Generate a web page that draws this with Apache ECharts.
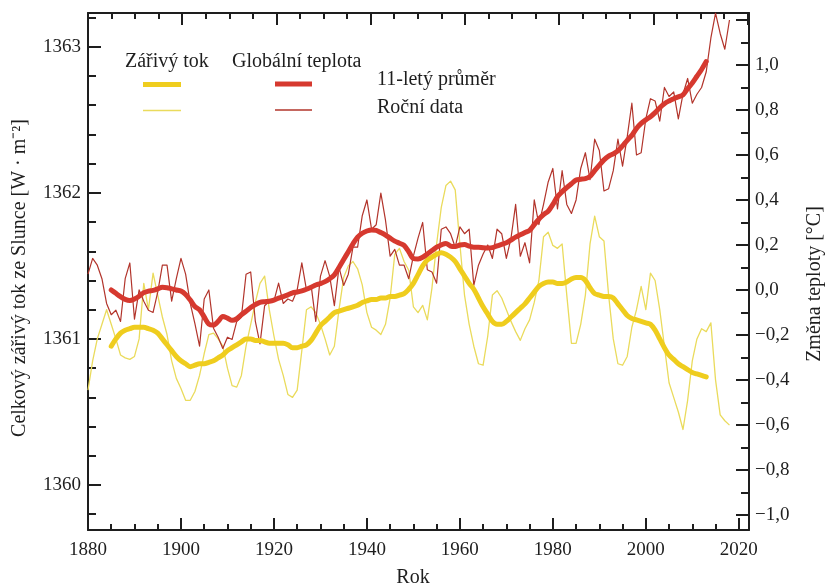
<!DOCTYPE html>
<html><head><meta charset="utf-8">
<script src="https://cdn.jsdelivr.net/npm/echarts@6/dist/echarts.min.js"></script>
<style>html,body{margin:0;padding:0;background:#fff}#c{width:826px;height:586px}</style>
</head><body><div id="c"></div>
<script>
// ---------- data ----------
const yearlyStart = 1880;   // annual series 1880..2018
const avgStart = 1885;      // 11-year averages 1885..2013

// Total solar irradiance, annual [W/m2]
const tsiYearly = [
  1360.65,1360.85,1361.00,1361.10,1361.20,1361.10,1361.00,1360.89,1360.87,1360.86,
  1360.88,1361.00,1361.38,1361.20,1361.45,1361.30,1361.15,1361.03,1360.85,1360.73,
  1360.66,1360.58,1360.58,1360.64,1360.75,1360.90,1361.03,1361.04,1361.00,1360.95,
  1360.80,1360.68,1360.67,1360.75,1360.95,1361.10,1361.25,1361.38,1361.43,1361.20,
  1361.02,1360.86,1360.75,1360.62,1360.60,1360.65,1360.92,1361.20,1361.22,1361.18,
  1361.10,1361.00,1360.89,1360.95,1361.20,1361.42,1361.50,1361.53,1361.48,1361.37,
  1361.18,1361.08,1361.06,1361.03,1361.10,1361.28,1361.58,1361.62,1361.53,1361.47,
  1361.22,1361.18,1361.23,1361.13,1361.35,1361.65,1361.90,1362.05,1362.08,1362.02,
  1361.65,1361.30,1361.10,1360.95,1360.83,1360.82,1361.02,1361.30,1361.33,1361.28,
  1361.20,1361.12,1361.05,1360.99,1361.07,1361.13,1361.25,1361.40,1361.70,1361.73,
  1361.64,1361.62,1361.65,1361.30,1360.97,1360.97,1361.10,1361.30,1361.65,1361.84,
  1361.70,1361.67,1361.30,1361.00,1360.83,1360.82,1360.88,1361.08,1361.20,1361.36,
  1361.20,1361.45,1361.40,1361.20,1360.95,1360.70,1360.60,1360.50,1360.38,1360.58,
  1360.85,1361.00,1361.07,1361.05,1361.11,1360.72,1360.48,1360.44,1360.41
];
// Total solar irradiance, 11-year average
const tsiAvg = [
  1360.95,1361.00,1361.04,1361.06,1361.07,
  1361.08,1361.08,1361.08,1361.07,1361.06,1361.04,1361.00,1360.96,1360.92,1360.88,
  1360.85,1360.83,1360.81,1360.82,1360.83,1360.83,1360.84,1360.85,1360.87,1360.89,
  1360.92,1360.94,1360.96,1360.98,1361.00,1361.00,1360.99,1360.99,1360.98,1360.97,
  1360.97,1360.97,1360.97,1360.96,1360.94,1360.94,1360.95,1360.96,1360.99,1361.04,
  1361.09,1361.12,1361.15,1361.18,1361.19,1361.20,1361.21,1361.22,1361.23,1361.25,
  1361.26,1361.27,1361.27,1361.28,1361.28,1361.29,1361.29,1361.30,1361.31,1361.34,
  1361.38,1361.44,1361.50,1361.54,1361.56,1361.58,1361.59,1361.58,1361.56,1361.53,
  1361.48,1361.43,1361.38,1361.34,1361.28,1361.22,1361.17,1361.12,1361.10,1361.10,
  1361.12,1361.15,1361.18,1361.21,1361.24,1361.28,1361.32,1361.36,1361.38,1361.39,
  1361.39,1361.38,1361.38,1361.39,1361.41,1361.42,1361.42,1361.40,1361.35,1361.31,
  1361.30,1361.29,1361.29,1361.28,1361.24,1361.20,1361.16,1361.14,1361.13,1361.12,
  1361.11,1361.10,1361.06,1361.00,1360.94,1360.89,1360.86,1360.83,1360.81,1360.79,
  1360.77,1360.76,1360.75,1360.74
];
// Global temperature change, annual [°C]
const tempYearly = [
  0.07,0.14,0.11,0.05,-0.06,-0.11,-0.09,-0.14,0.05,0.12,
  -0.13,0.00,-0.05,-0.09,-0.10,-0.01,0.11,0.11,-0.05,0.05,
  0.14,0.07,-0.06,-0.15,-0.25,-0.04,0.00,-0.17,-0.21,-0.26,
  -0.21,-0.22,-0.14,-0.12,0.07,0.08,-0.14,-0.24,-0.07,-0.05,
  -0.05,0.03,-0.06,-0.04,-0.05,0.00,0.12,0.00,0.02,-0.14,
  0.06,0.13,0.06,-0.07,0.10,0.02,0.07,0.19,0.19,0.33,
  0.40,0.27,0.29,0.43,0.31,0.15,0.18,0.11,0.11,0.05,
  0.15,0.23,0.30,0.09,0.08,0.03,0.27,0.28,0.25,0.19,
  0.28,0.25,0.27,0.02,0.11,0.16,0.20,0.14,0.27,0.25,
  0.14,0.23,0.38,0.15,0.21,0.12,0.40,0.29,0.38,0.48,
  0.54,0.36,0.53,0.38,0.34,0.40,0.54,0.61,0.49,0.67,
  0.62,0.44,0.45,0.53,0.67,0.55,0.68,0.83,0.60,0.61,
  0.76,0.85,0.84,0.75,0.90,0.86,0.88,0.76,0.87,0.94,
  0.83,0.87,0.90,0.97,1.12,1.23,1.14,1.07,1.20
];
// Global temperature change, 11-year average
const tempAvg = [
  0.00,-0.015,-0.03,-0.042,-0.047,
  -0.04,-0.028,-0.012,-0.005,-0.002,0.005,0.012,0.01,0.005,0.0,
  -0.005,-0.02,-0.045,-0.074,-0.088,-0.12,-0.152,-0.156,-0.14,-0.118,
  -0.125,-0.135,-0.128,-0.11,-0.095,-0.078,-0.065,-0.055,-0.052,-0.05,
  -0.045,-0.036,-0.03,-0.022,-0.013,-0.009,-0.004,0.003,0.012,0.022,
  0.028,0.037,0.05,0.067,0.10,0.135,0.17,0.205,0.235,0.252,
  0.262,0.267,0.265,0.255,0.244,0.23,0.217,0.208,0.198,0.17,
  0.14,0.138,0.145,0.16,0.175,0.19,0.20,0.207,0.195,0.193,
  0.20,0.202,0.195,0.19,0.19,0.188,0.187,0.188,0.196,0.203,
  0.21,0.222,0.235,0.245,0.255,0.265,0.29,0.315,0.335,0.35,
  0.38,0.415,0.437,0.455,0.472,0.489,0.492,0.495,0.505,0.53,
  0.555,0.578,0.595,0.605,0.618,0.64,0.665,0.687,0.718,0.74,
  0.756,0.77,0.788,0.81,0.828,0.84,0.85,0.858,0.867,0.895,
  0.92,0.95,0.98,1.015
];

// ticks
const leftMajor = [1360, 1361, 1362, 1363];
const leftMinor = [1359.8,1360.2,1360.4,1360.6,1360.8,1361.2,1361.4,1361.6,1361.8,1362.2,1362.4,1362.6,1362.8,1363.2];
const rightMajor = [-1.0,-0.8,-0.6,-0.4,-0.2,0.0,0.2,0.4,0.6,0.8,1.0,1.2];
const rightLabels = [-1.0,-0.8,-0.6,-0.4,-0.2,0.0,0.2,0.4,0.6,0.8,1.0];
const rightMinor = [-0.9,-0.7,-0.5,-0.3,-0.1,0.1,0.3,0.5,0.7,0.9,1.1];

// texts
const legendTitles = ['Zářivý tok', 'Globální teplota'];
const legendRows = ['11-letý průměr', 'Roční data'];
const xTitle = 'Rok';
const leftTitle = 'Celkový zářivý tok ze Slunce [W · m⁻²]';
const rightTitle = 'Změna teploty [°C]';

// colours
const C = {
  yThick: '#efcd1e', yThin: '#eadb5c',
  rThick: '#d6392f', rThin: '#b2342b',
  ink: '#1e1e1e'
};

// ---------- build ----------
const pairs = (start, arr) => arr.map((v, i) => [start + i, v]);
const FONT = '"Liberation Serif", "Times New Roman", serif';

const lineAxis = {show: true, onZero: false, lineStyle: {color: C.ink, width: 2}};
const chart = echarts.init(document.getElementById('c'), null, {renderer: 'canvas'});

const fmtRight = v => {
  const r = Math.round(v * 10) / 10;
  return (r < 0 ? '\u2212' : '') + Math.abs(r).toFixed(1).replace('.', ',');
};

chart.setOption({
  animation: false,
  backgroundColor: '#fff',
  grid: {left: 88, right: 77, top: 13, bottom: 56, containLabel: false},
  xAxis: [
    {
      type: 'value', position: 'bottom', min: 1880, max: 2022.2, interval: 20,
      axisLine: lineAxis,
      axisTick: {show: true, inside: true, length: 12, lineStyle: {color: C.ink, width: 2}},
      minorTick: {show: true, splitNumber: 4, length: 6, lineStyle: {color: C.ink, width: 2}},
      axisLabel: {show: true, showMaxLabel: false, margin: 11, color: C.ink, fontFamily: FONT, fontSize: 19,
        formatter: v => (Math.abs(v % 20) < 1e-6 ? String(v) : '')},
      splitLine: {show: false}, minorSplitLine: {show: false}
    },
    {
      type: 'value', position: 'top', min: 1880, max: 2020.3, interval: 20,
      axisLine: lineAxis,
      axisTick: {show: true, inside: true, length: 12, lineStyle: {color: C.ink, width: 2}},
      minorTick: {show: true, splitNumber: 4, length: 6, lineStyle: {color: C.ink, width: 2}},
      axisLabel: {show: false},
      splitLine: {show: false}, minorSplitLine: {show: false}
    }
  ],
  yAxis: [
    {
      type: 'value', position: 'left', min: 1359.692, max: 1363.231,
      axisLine: lineAxis,
      axisTick: {show: true, inside: true, length: 13, customValues: leftMajor, lineStyle: {color: C.ink, width: 2}},
      axisLabel: {show: true, customValues: leftMajor, margin: 7, color: C.ink, fontFamily: FONT, fontSize: 19,
        formatter: v => String(Math.round(v))},
      splitLine: {show: false}
    },
    {
      type: 'value', position: 'right', min: -1.067, max: 1.231,
      axisLine: lineAxis,
      axisTick: {show: true, inside: true, length: 13, customValues: rightMajor, lineStyle: {color: C.ink, width: 2}},
      axisLabel: {show: true, customValues: rightLabels, margin: 6, color: C.ink, fontFamily: FONT, fontSize: 19,
        formatter: fmtRight},
      splitLine: {show: false}
    },
    {
      type: 'value', position: 'left', min: 1359.692, max: 1363.231,
      axisLine: {show: false, onZero: false},
      axisTick: {show: true, inside: true, length: 8, customValues: leftMinor, lineStyle: {color: C.ink, width: 2}},
      axisLabel: {show: false}, splitLine: {show: false}
    },
    {
      type: 'value', position: 'right', min: -1.067, max: 1.231,
      axisLine: {show: false, onZero: false},
      axisTick: {show: true, inside: true, length: 8, customValues: rightMinor, lineStyle: {color: C.ink, width: 2}},
      axisLabel: {show: false}, splitLine: {show: false}
    }
  ],
  series: [
    {type: 'line', name: 'tsiYearly', xAxisIndex: 0, yAxisIndex: 0, data: pairs(yearlyStart, tsiYearly),
      showSymbol: false, symbol: 'none', silent: true, z: 2,
      lineStyle: {color: C.yThin, width: 1.3, join: 'round'}},
    {type: 'line', name: 'tempYearly', xAxisIndex: 0, yAxisIndex: 1, data: pairs(yearlyStart, tempYearly),
      showSymbol: false, symbol: 'none', silent: true, z: 3, clip: false,
      lineStyle: {color: C.rThin, width: 1.2, join: 'round'}},
    {type: 'line', name: 'tsiAvg', xAxisIndex: 0, yAxisIndex: 0, data: pairs(avgStart, tsiAvg),
      showSymbol: false, symbol: 'none', silent: true, z: 4, smooth: 0.3,
      lineStyle: {color: C.yThick, width: 5, join: 'round', cap: 'round'}},
    {type: 'line', name: 'tempAvg', xAxisIndex: 0, yAxisIndex: 1, data: pairs(avgStart, tempAvg),
      showSymbol: false, symbol: 'none', silent: true, z: 5, smooth: 0.3,
      lineStyle: {color: C.rThick, width: 5, join: 'round', cap: 'round'}}
  ],
  graphic: [
    {type: 'text', x: 125, y: 62, style: {text: legendTitles[0], font: '20px ' + FONT, fill: C.ink,
      textAlign: 'left', textVerticalAlign: 'middle', align: 'left', verticalAlign: 'middle'}},
    {type: 'text', x: 232, y: 62, style: {text: legendTitles[1], font: '20px ' + FONT, fill: C.ink,
      textAlign: 'left', textVerticalAlign: 'middle', align: 'left', verticalAlign: 'middle'}},
    {type: 'text', x: 377, y: 80, style: {text: legendRows[0], font: '20px ' + FONT, fill: C.ink,
      textAlign: 'left', textVerticalAlign: 'middle', align: 'left', verticalAlign: 'middle'}},
    {type: 'text', x: 377, y: 108, style: {text: legendRows[1], font: '20px ' + FONT, fill: C.ink,
      textAlign: 'left', textVerticalAlign: 'middle', align: 'left', verticalAlign: 'middle'}},
    {type: 'line', shape: {x1: 143, y1: 84.5, x2: 181, y2: 84.5}, style: {stroke: C.yThick, lineWidth: 5}},
    {type: 'line', shape: {x1: 143, y1: 110.5, x2: 181, y2: 110.5}, style: {stroke: C.yThin, lineWidth: 1.4}},
    {type: 'line', shape: {x1: 275, y1: 84, x2: 312, y2: 84}, style: {stroke: C.rThick, lineWidth: 5}},
    {type: 'line', shape: {x1: 275, y1: 110, x2: 312, y2: 110}, style: {stroke: C.rThin, lineWidth: 1.3}},
    {type: 'text', x: 20, y: 278, rotation: Math.PI / 2, style: {text: leftTitle, font: '20px ' + FONT, fill: C.ink,
      textAlign: 'center', textVerticalAlign: 'middle', align: 'center', verticalAlign: 'middle'}},
    {type: 'text', x: 815, y: 284, rotation: Math.PI / 2, style: {text: rightTitle, font: '20px ' + FONT, fill: C.ink,
      textAlign: 'center', textVerticalAlign: 'middle', align: 'center', verticalAlign: 'middle'}},
    {type: 'text', x: 413, y: 578, style: {text: xTitle, font: '20px ' + FONT, fill: C.ink,
      textAlign: 'center', textVerticalAlign: 'middle', align: 'center', verticalAlign: 'middle'}}
  ]
});
</script>
</body></html>
